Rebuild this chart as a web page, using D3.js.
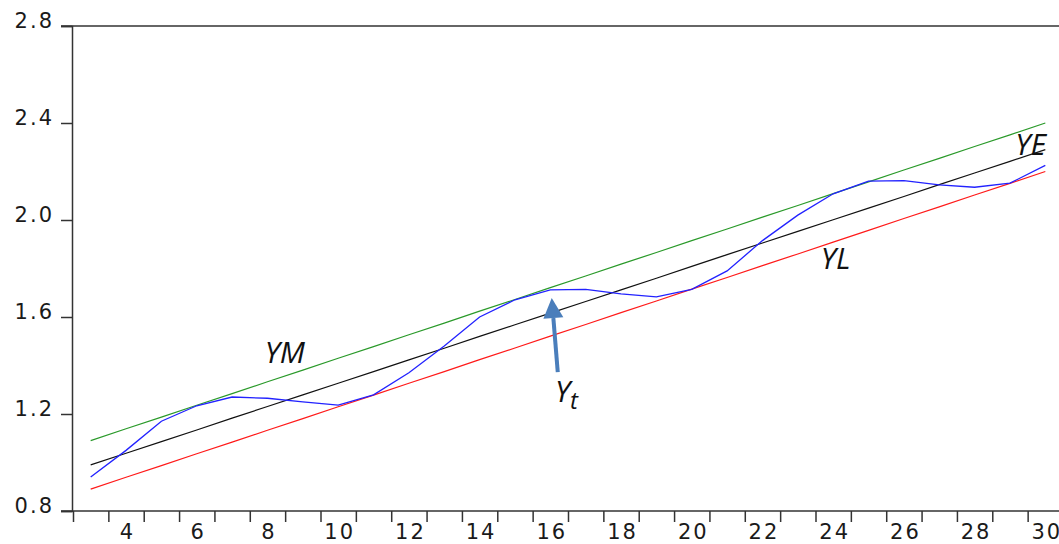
<!DOCTYPE html>
<html lang="en">
<head>
    <meta charset="UTF-8">
    <title>YM YE YL and Yt</title>
    <style>
        body { margin: 0; background: #fff; }
        svg { display: block; }
    </style>
</head>
<body>
    <div id="chart"></div>

    <script src="https://d3js.org/d3.v7.min.js"></script>
    <script>
        // observation index
        var periods = [3, 4, 5, 6, 7, 8, 9, 10, 11, 12, 13, 14, 15, 16,
                       17, 18, 19, 20, 21, 22, 23, 24, 25, 26, 27, 28, 29, 30];

        // upper line (green)
        var ymValues = [1.090, 1.139, 1.187, 1.236, 1.284, 1.333, 1.381, 1.430, 1.478, 1.527, 1.575, 1.624, 1.672, 1.721,
                        1.769, 1.818, 1.866, 1.915, 1.963, 2.012, 2.060, 2.109, 2.157, 2.206, 2.254, 2.303, 2.351, 2.400];
        // middle line (black)
        var yeValues = [0.990, 1.038, 1.086, 1.134, 1.183, 1.231, 1.279, 1.327, 1.375, 1.423, 1.471, 1.520, 1.568, 1.616,
                        1.664, 1.712, 1.760, 1.809, 1.857, 1.905, 1.953, 2.001, 2.049, 2.097, 2.146, 2.194, 2.242, 2.290];
        // lower line (red)
        var ylValues = [0.890, 0.939, 0.987, 1.036, 1.084, 1.133, 1.181, 1.230, 1.278, 1.327, 1.375, 1.424, 1.472, 1.521,
                        1.569, 1.618, 1.666, 1.715, 1.763, 1.812, 1.860, 1.909, 1.957, 2.006, 2.054, 2.103, 2.151, 2.200];
        // actual series (blue)
        var ytValues = [0.94, 1.05, 1.17, 1.234, 1.27, 1.265, 1.25, 1.237, 1.279, 1.37, 1.48, 1.60, 1.671, 1.712,
                        1.714, 1.695, 1.683, 1.714, 1.79, 1.915, 2.02, 2.108, 2.16, 2.162, 2.145, 2.135, 2.152, 2.225];

        var yTicks = [0.8, 1.2, 1.6, 2.0, 2.4, 2.8];
        var xLabels = [4, 6, 8, 10, 12, 14, 16, 18, 20, 22, 24, 26, 28, 30];
        var xMinorTicks = d3.range(2.5, 31, 1);

        var W = 1059, H = 544;
        var plotLeft = 73, plotRight = 1063, plotTop = 26, plotBottom = 511;

        var svg = d3.select("#chart").append("svg")
            .attr("width", W)
            .attr("height", H);

        var x = d3.scaleLinear().domain([2.5, 30.5]).range([plotLeft, plotRight]);
        var y = d3.scaleLinear().domain([0.8, 2.8]).range([plotBottom, plotTop]);

        var axisColor = "#333";
        var tickFont = "DejaVu Sans, sans-serif";

        // frame: top line and bottom line stretch across
        svg.append("line")
            .attr("x1", 61).attr("x2", W)
            .attr("y1", y(2.8)).attr("y2", y(2.8))
            .style("stroke", axisColor).style("stroke-width", 1.5);

        // y axis
        var yAxis = d3.axisLeft(y)
            .tickValues(yTicks)
            .tickSize(11)
            .tickPadding(7)
            .tickFormat(d3.format(".1f"));
        var yG = svg.append("g")
            .attr("transform", "translate(" + (plotLeft - 1) + ",0)")
            .call(yAxis);
        yG.select(".domain").style("stroke", axisColor).style("stroke-width", 1.5);
        yG.selectAll("line").style("stroke", axisColor).style("stroke-width", 1.5);
        yG.selectAll("text")
            .attr("dy", "0.07em")
            .style("font-family", tickFont)
            .style("font-size", "21px")
            .style("letter-spacing", "2px")
            .style("fill", "#1a1a1a");

        // x axis: ticks at half periods, labels on even periods
        var xTickAxis = d3.axisBottom(x)
            .tickValues(xMinorTicks)
            .tickSize(11)
            .tickFormat("");
        var xG = svg.append("g")
            .attr("transform", "translate(0," + plotBottom + ")")
            .call(xTickAxis);
        xG.select(".domain").remove();
        xG.selectAll("line").style("stroke", axisColor).style("stroke-width", 1.5);

        svg.append("line")
            .attr("x1", 61).attr("x2", W)
            .attr("y1", plotBottom).attr("y2", plotBottom)
            .style("stroke", axisColor).style("stroke-width", 1.5);

        var xLabelAxis = d3.axisBottom(x)
            .tickValues(xLabels)
            .tickSize(0)
            .tickPadding(13)
            .tickFormat(d3.format("d"));
        var xL = svg.append("g")
            .attr("transform", "translate(0," + plotBottom + ")")
            .call(xLabelAxis);
        xL.select(".domain").remove();
        xL.selectAll("text")
            .attr("dx", "1px")
            .style("font-family", tickFont)
            .style("font-size", "21px")
            .style("letter-spacing", "2px")
            .style("fill", "#1a1a1a");

        // series
        var series = [
            { name: "YL", values: ylValues, color: "#ff1a1a", width: 1.2 },
            { name: "YE", values: yeValues, color: "#111111", width: 1.2 },
            { name: "YM", values: ymValues, color: "#2a9a2a", width: 1.2 },
            { name: "Yt", values: ytValues, color: "#2222ff", width: 1.3 }
        ];

        var line = d3.line()
            .x(function(d){ return x(d[0]); })
            .y(function(d){ return y(d[1]); });

        svg.selectAll("path.series")
            .data(series)
            .enter()
            .append("path")
                .attr("class", "series")
                .attr("d", function(s){
                    return line(periods.map(function(p, i){ return [p, s.values[i]]; }));
                })
                .style("fill", "none")
                .style("stroke", function(s){ return s.color; })
                .style("stroke-width", function(s){ return s.width; });

        // labels (placed in data coordinates)
        var labelFont = "Open Sans, sans-serif";
        var labels = [
            { text: "YM", t: 7.92, v: 1.41 },
            { text: "YL", t: 23.65, v: 1.80 },
            { text: "YE", t: 29.15, v: 2.268 }
        ];
        svg.selectAll("text.lbl")
            .data(labels)
            .enter()
            .append("text")
                .attr("class", "lbl")
                .attr("x", function(d){ return x(d.t); })
                .attr("y", function(d){ return y(d.v); })
                .text(function(d){ return d.text; })
                .style("font-family", labelFont)
                .style("font-style", "italic")
                .style("font-size", "30px")
                .style("fill", "#111");

        // arrow pointing at Yt
        var arrowTail = [16.21, 1.373];
        var arrowTip = [16.04, 1.678];
        var ax1 = x(arrowTail[0]), ay1 = y(arrowTail[1]);
        var ax2 = x(arrowTip[0]), ay2 = y(arrowTip[1]);
        var ang = Math.atan2(ay2 - ay1, ax2 - ax1);
        var headLen = 20, headHalf = 10;
        var bx = ax2 - headLen * Math.cos(ang), by = ay2 - headLen * Math.sin(ang);
        var arrowColor = "#4a7ebb";

        svg.append("line")
            .attr("x1", ax1).attr("y1", ay1)
            .attr("x2", bx).attr("y2", by)
            .style("stroke", arrowColor)
            .style("stroke-width", 4);
        svg.append("path")
            .attr("d", "M" + ax2 + "," + ay2 +
                       "L" + (bx + headHalf * Math.sin(ang)) + "," + (by - headHalf * Math.cos(ang)) +
                       "L" + (bx - headHalf * Math.sin(ang)) + "," + (by + headHalf * Math.cos(ang)) + "Z")
            .style("fill", arrowColor);

        var yt = svg.append("text")
            .attr("x", x(16.13))
            .attr("y", y(1.25))
            .style("font-family", labelFont)
            .style("font-style", "italic")
            .style("font-size", "30px")
            .style("fill", "#111");
        yt.append("tspan").text("Y");
        yt.append("tspan")
            .attr("dy", 7)
            .style("font-size", "24px")
            .text("t");
    </script>
</body>
</html>
